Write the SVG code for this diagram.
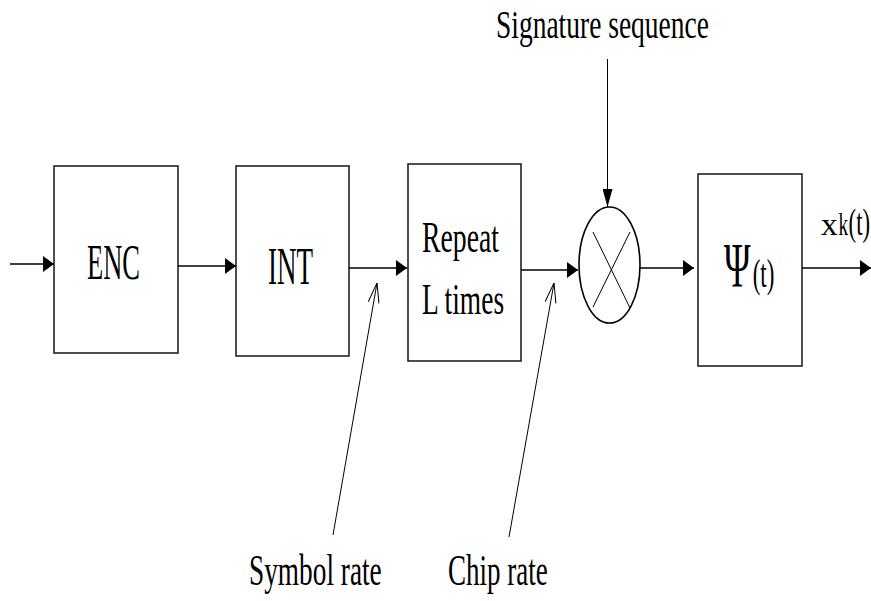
<svg xmlns="http://www.w3.org/2000/svg" width="871" height="601" viewBox="0 0 871 601">
<defs>
<marker id="ah" viewBox="0 0 11 16" refX="11" refY="8" markerWidth="11" markerHeight="16" markerUnits="userSpaceOnUse" orient="auto">
<path d="M0,0 L11,8 L0,16 Z" fill="#000"/>
</marker>
<marker id="av" viewBox="0 0 18 10" refX="18" refY="5" markerWidth="18" markerHeight="10" markerUnits="userSpaceOnUse" orient="auto">
<path d="M0,0 L18,5 L0,10 Z" fill="#000"/>
</marker>
<marker id="oh" viewBox="0 0 20 12" refX="20" refY="6" markerWidth="20" markerHeight="12" markerUnits="userSpaceOnUse" orient="auto">
<path d="M0,0.5 L20,6 L0,11.5" fill="none" stroke="#000" stroke-width="1"/>
</marker>
<style>
.box{fill:#fff;stroke:#222;stroke-width:1.6}
.t{font-family:"Liberation Serif","Times New Roman",serif;fill:#000}
.c{stroke:#000;stroke-width:1.6;fill:none}
.p{stroke:#000;stroke-width:1;fill:none}
</style>
</defs>
<rect width="871" height="601" fill="#fff"/>
<g id="enc">
<rect class="box" x="54" y="166" width="124" height="187"/>
<text class="t" transform="translate(87,279) scale(0.52,1)" font-size="51">ENC</text>
</g>
<g id="int">
<rect class="box" x="236" y="166" width="113" height="190"/>
<text class="t" transform="translate(268,284) scale(0.52,1)" font-size="52">INT</text>
</g>
<g id="repeat">
<rect class="box" x="408" y="164" width="113" height="197"/>
<text class="t" transform="translate(422,252) scale(0.616,1)" font-size="45">Repeat</text>
<text class="t" transform="translate(422,314) scale(0.61,1)" font-size="45">L times</text>
</g>
<g id="mult">
<ellipse cx="609.5" cy="265" rx="30.5" ry="58" fill="#fff" stroke="#000" stroke-width="1.6"/>
<line class="p" x1="593" y1="232" x2="630" y2="308"/>
<line class="p" x1="630" y1="232" x2="593" y2="307"/>
</g>
<g id="psi">
<rect class="box" x="698" y="174" width="104" height="192"/>
<text class="t" transform="translate(724,287) scale(0.56,1)" font-size="64">Ψ<tspan font-size="41" dx="4">(t)</tspan></text>
</g>
<g id="labels">
<text class="t" transform="translate(496,38) scale(0.705,1)" font-size="39">Signature sequence</text>
<text class="t" transform="translate(249,585) scale(0.607,1)" font-size="45">Symbol rate</text>
<text class="t" transform="translate(448,585) scale(0.6,1)" font-size="45">Chip rate</text>
<text class="t" transform="translate(821,235) scale(0.6,1)" font-size="38"><tspan font-size="32" textLength="28" lengthAdjust="spacingAndGlyphs">x</tspan><tspan font-size="32" dx="1">k</tspan><tspan dx="1">(t)</tspan></text>
</g>
<g id="connectors">
<line class="c" x1="10" y1="264" x2="54" y2="264" marker-end="url(#ah)"/>
<line class="c" x1="178" y1="266" x2="236" y2="266" marker-end="url(#ah)"/>
<line class="c" x1="349" y1="268" x2="407" y2="268" marker-end="url(#ah)"/>
<line class="c" x1="521" y1="270" x2="578" y2="270" marker-end="url(#ah)"/>
<line class="c" x1="640" y1="268" x2="694" y2="268" marker-end="url(#ah)"/>
<line class="c" x1="802" y1="268" x2="871" y2="268" marker-end="url(#ah)"/>
<line class="p" x1="607.5" y1="59" x2="607.5" y2="207" marker-end="url(#av)"/>
<line class="p" x1="333" y1="535" x2="377" y2="283" marker-end="url(#oh)"/>
<line class="p" x1="509" y1="537" x2="554" y2="283" marker-end="url(#oh)"/>
</g>
</svg>
